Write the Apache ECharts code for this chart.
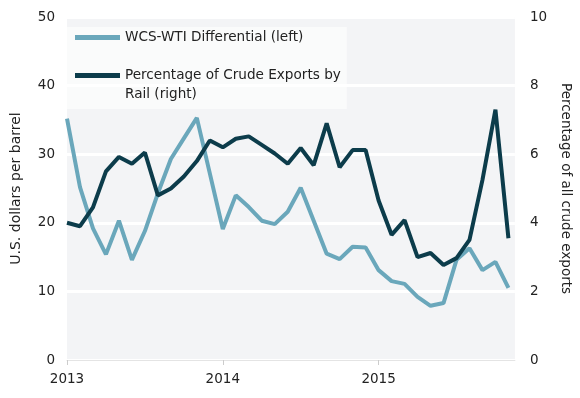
<!DOCTYPE html>
<html>
<head>
<meta charset="utf-8">
<script src="https://cdn.jsdelivr.net/npm/echarts@6/dist/echarts.min.js"></script>
<style>
  html, body { margin: 0; padding: 0; background: #fff; }
  #main { width: 580px; height: 398px; }
</style>
</head>
<body>
<div id="main"></div>
<script>
// monthly, Jan 2013 .. Nov 2015
var startYear = 2013
var wcsWti = [35.2, 25.2, 19.2, 15.4, 20.3, 14.6, 18.8, 24.3, 29.3, 32.3, 35.3, 27.2,
    19.1, 24.0, 22.3, 20.3, 19.8, 21.6, 25.1, 20.3, 15.5, 14.7, 16.5, 16.4,
    13.1, 11.5, 11.1, 9.2, 7.9, 8.3, 14.6, 16.3, 13.1, 14.3, 10.5]
var railShare = [4.0, 3.9, 4.45, 5.5, 5.92, 5.72, 6.05, 4.8, 5.0, 5.35, 5.8, 6.4,
    6.2, 6.45, 6.52, 6.27, 6.02, 5.72, 6.18, 5.68, 6.9, 5.62, 6.12, 6.12,
    4.65, 3.65, 4.08, 3.0, 3.12, 2.77, 2.97, 3.5, 5.25, 7.3, 3.55]
var seriesNames = ['WCS-WTI Differential (left)', 'Percentage of Crude Exports by Rail (right)']

var font = 'DejaVu Sans'
var txt = '#222'

var chart = echarts.init(document.getElementById('main'))

var option = {
    animation: false,
    textStyle: { fontFamily: font },
    grid: {
        left: 67, right: 59, top: 17, bottom: 38,
        show: true,
        backgroundColor: '#f3f4f6',
        borderWidth: 0
    },
    legend: {
        orient: 'vertical',
        left: 67, top: 27,
        padding: [1, 6, 5, 8],
        itemGap: 0,
        itemWidth: 45,
        itemHeight: 5,
        icon: 'rect',
        backgroundColor: 'rgba(255,255,255,0.6)',
        textStyle: { fontSize: 13.6, color: txt, lineHeight: 19, fontFamily: font },
        // second entry wraps; blank first line keeps the icon on the first text line
        formatter: function (name) {
            if (name === seriesNames[1]) return '\nPercentage of Crude Exports by\nRail (right)'
            return name
        },
        data: seriesNames
    },
    xAxis: {
        type: 'value',
        min: 0, max: 34.5, interval: 12,
        axisLine: { show: true, lineStyle: { color: '#e4e4e4', width: 1 } },
        axisTick: { show: true, length: 5, lineStyle: { color: '#cccccc' } },
        splitLine: { show: false },
        axisLabel: {
            fontSize: 13.5, color: txt, margin: 12,
            showMaxLabel: false,
            formatter: function (v) { return v % 12 === 0 ? String(startYear + v / 12) : '' }
        }
    },
    yAxis: [{
        type: 'value',
        min: 0, max: 50, interval: 10,
        name: 'U.S. dollars per barrel',
        nameLocation: 'middle',
        nameGap: 44,
        nameTextStyle: { fontSize: 14, color: txt },
        axisLine: { show: false },
        axisTick: { show: false },
        axisLabel: { fontSize: 13.5, color: txt, margin: 12 },
        splitLine: { show: true, lineStyle: { color: '#ffffff', width: 3 } }
    }, {
        type: 'value',
        position: 'right',
        min: 0, max: 10, interval: 2,
        name: 'Percentage of all crude exports',
        nameLocation: 'middle',
        nameRotate: -90,
        nameGap: 41,
        nameTextStyle: { fontSize: 13.5, color: txt },
        axisLine: { show: false },
        axisTick: { show: false },
        axisLabel: { fontSize: 13.5, color: txt, margin: 15 },
        splitLine: { show: false }
    }],
    series: [{
        name: seriesNames[0],
        type: 'line',
        yAxisIndex: 0,
        showSymbol: false,
        symbol: 'none',
        lineStyle: { width: 4, color: '#6aa7bb' },
        itemStyle: { color: '#6aa7bb' },
        data: wcsWti.map(function (v, i) { return [i, v] })
    }, {
        name: seriesNames[1],
        type: 'line',
        yAxisIndex: 1,
        showSymbol: false,
        symbol: 'none',
        lineStyle: { width: 4, color: '#0c3c4b' },
        itemStyle: { color: '#0c3c4b' },
        data: railShare.map(function (v, i) { return [i, v] })
    }]
}

chart.setOption(option)
</script>
</body>
</html>
